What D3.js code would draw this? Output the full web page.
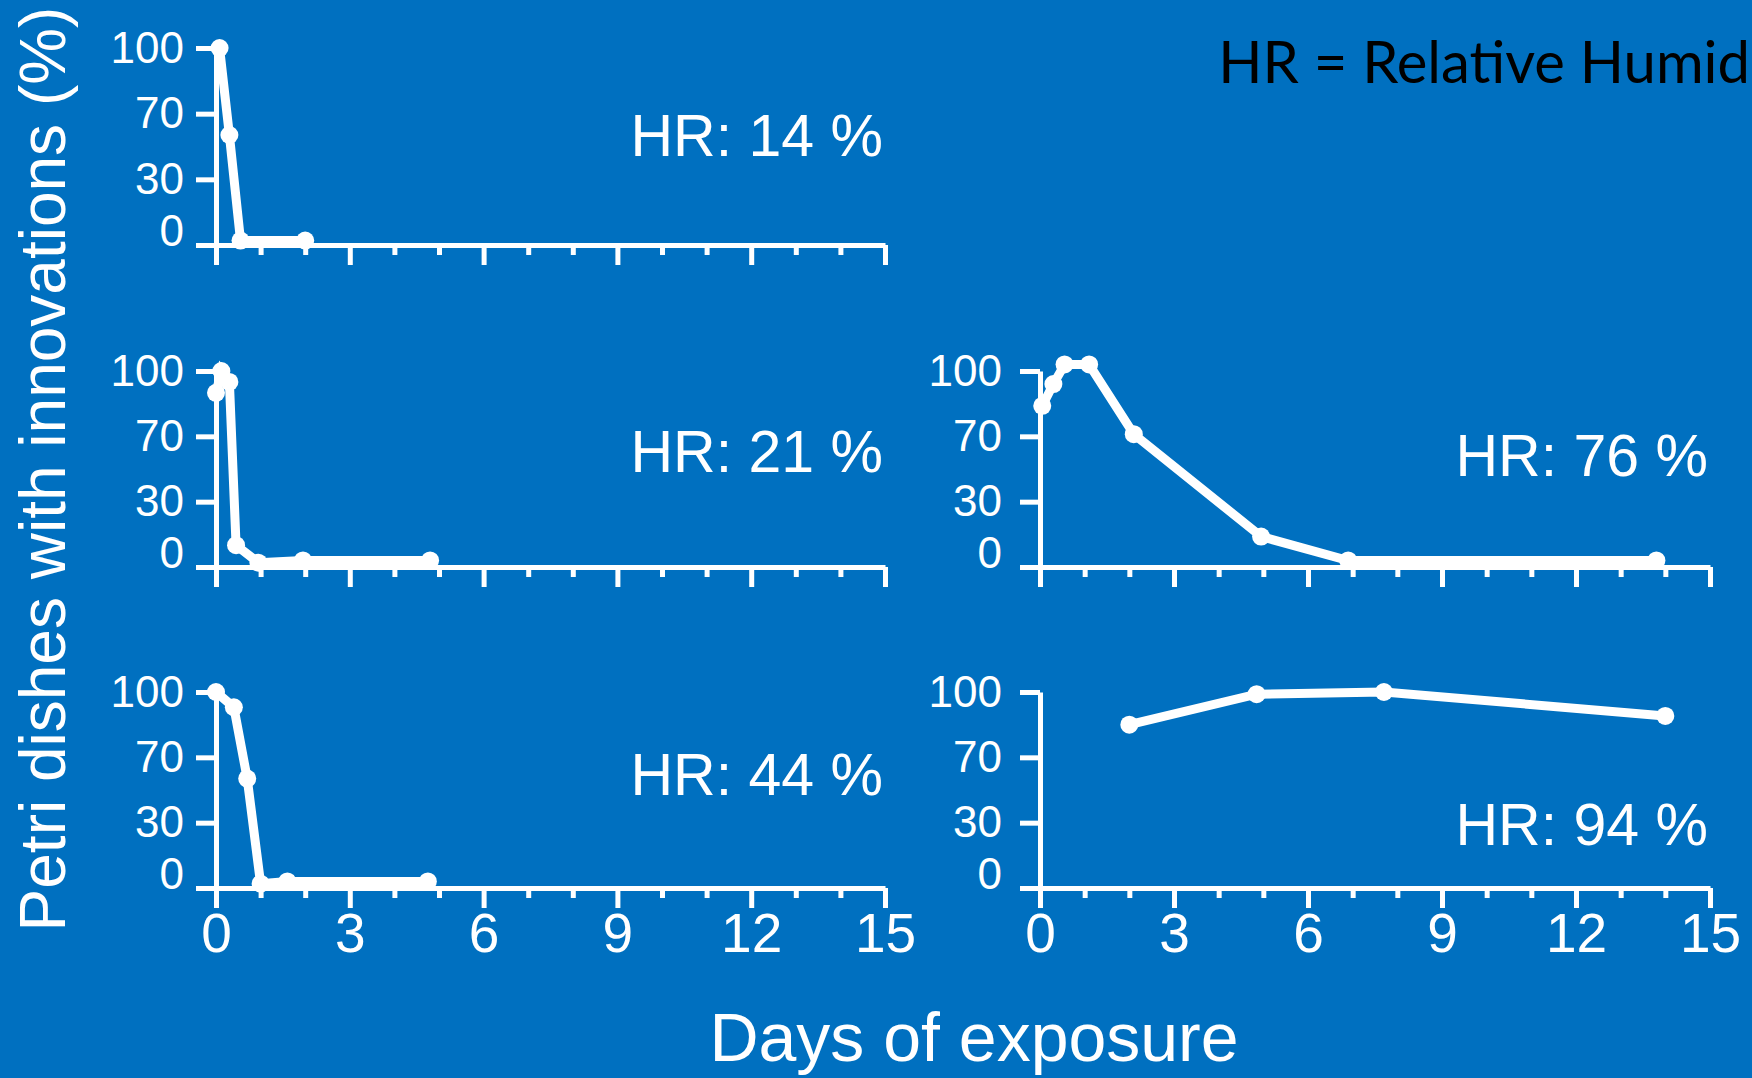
<!DOCTYPE html>
<html>
<head>
<meta charset="utf-8">
<script src="https://cdn.jsdelivr.net/npm/d3@7"></script>
<style>
  html, body { margin: 0; padding: 0; background: #0070C0; overflow: hidden; }
  svg { display: block; }
</style>
</head>
<body>
<div id="chart"></div>
<script>
(function () {

  // Data (days of exposure, % petri dishes)
  const days14 = [0.08, 0.3, 0.55, 2.0]
  const pct14 = [100, 57, 2, 2]

  const days21 = [0, 0.12, 0.3, 0.45, 0.95, 1.95, 4.8]
  const pct21 = [90, 100, 95, 10, 2, 3, 3]

  const days44 = [0, 0.4, 0.7, 1.0, 1.6, 4.75]
  const pct44 = [100, 93, 57, 2, 3, 3]

  const days76 = [0.05, 0.3, 0.55, 1.1, 2.1, 4.95, 6.9, 13.8]
  const pct76 = [84, 94, 103, 103, 71, 14, 3, 3]

  const days94 = [2, 4.85, 7.7, 14]
  const pct94 = [85, 99, 100, 89]

  const yTicks = [0, 30, 70, 100]
  const xMajor = [0, 3, 6, 9, 12, 15]
  const panelLabels = ["HR: 14 %", "HR: 21 %", "HR: 44 %", "HR: 76 %", "HR: 94 %"]

  const panels = [
    { label: panelLabels[0], days: days14, pct: pct14, col: 0, row: 0 },
    { label: panelLabels[1], days: days21, pct: pct21, col: 0, row: 1 },
    { label: panelLabels[2], days: days44, pct: pct44, col: 0, row: 2 },
    { label: panelLabels[3], days: days76, pct: pct76, col: 1, row: 1 },
    { label: panelLabels[4], days: days94, pct: pct94, col: 1, row: 2 }
  ]

  const width = 1752
  const height = 1078
  const colX = [[216, 885], [1040, 1710]]
  const rowTop = [48, 371, 692]
  const rowBottom = [245, 567, 888]
  const labelBase = [[156, 472, 795], [null, 476, 845]]

  const white = "#ffffff"
  const font = "'Liberation Sans', Arial, Helvetica, sans-serif"

  const svg = d3.select("#chart").append("svg")
      .attr("width", width)
      .attr("height", height)

  svg.append("rect")
    .attr("width", width)
    .attr("height", height)
    .attr("fill", "#0070C0")

  panels.forEach(p => {
    const x = d3.scaleLinear().domain([0, 15]).range(colX[p.col])
    const y0 = rowBottom[p.row]
    const h = y0 - rowTop[p.row]
    const y = d3.scaleLinear()
      .domain(yTicks)
      .range([y0, y0 - h / 3, y0 - 2 * h / 3, y0 - h])

    const g = svg.append("g")

    // x axis with minor ticks every day
    const xAxis = g.append("g")
      .attr("transform", "translate(0," + y0 + ")")
      .call(d3.axisBottom(x)
        .tickValues(d3.range(0, 16))
        .tickSize(20)
        .tickSizeOuter(0)
        .tickFormat(d => (p.row === 2 && xMajor.includes(d)) ? d : ""))
    xAxis.selectAll(".tick line")
      .attr("y2", d => xMajor.includes(d) ? 20 : 10)
    xAxis.selectAll("text")
      .attr("y", 25)
      .attr("dy", "0.71em")
      .attr("fill", white)
      .style("font-size", "55px")
      .style("font-family", font)

    // y axis
    const yAxis = g.append("g")
      .attr("transform", "translate(" + colX[p.col][0] + ",0)")
      .call(d3.axisLeft(y)
        .tickValues(yTicks)
        .tickSize(20)
        .tickSizeOuter(0))
    yAxis.selectAll("text")
      .attr("x", p.col === 0 ? -32 : -38)
      .attr("y", d => d === 0 ? -14 : 0)
      .attr("fill", white)
      .style("font-size", "44px")
      .style("font-family", font)

    g.selectAll(".domain, .tick line")
      .attr("stroke", white)
      .attr("stroke-width", 5)

    const pts = p.days.map((d, i) => [d, p.pct[i]])

    g.append("path")
      .datum(pts)
      .attr("fill", "none")
      .attr("stroke", white)
      .attr("stroke-width", 9)
      .attr("stroke-linejoin", "miter")
      .attr("d", d3.line().x(d => x(d[0])).y(d => y(d[1])))

    g.selectAll("circle")
      .data(pts)
      .join("circle")
      .attr("cx", d => x(d[0]))
      .attr("cy", d => y(d[1]))
      .attr("r", 9)
      .attr("fill", white)

    g.append("text")
      .attr("x", colX[p.col][1] - 2)
      .attr("y", labelBase[p.col][p.row])
      .attr("text-anchor", "end")
      .attr("fill", white)
      .style("font-size", "59px")
      .style("font-family", font)
      .text(p.label)
  })

  // Axis titles
  svg.append("text")
    .attr("transform", "translate(65,469) rotate(-90)")
    .attr("text-anchor", "middle")
    .attr("fill", white)
    .style("font-size", "64px")
    .style("font-family", font)
    .text("Petri dishes with innovations (%)")

  svg.append("text")
    .attr("x", 974)
    .attr("y", 1061)
    .attr("text-anchor", "middle")
    .attr("fill", white)
    .style("font-size", "68px")
    .style("font-family", font)
    .text("Days of exposure")

  // Note in the corner (as far as it shows in the source)
  svg.append("text")
    .attr("x", 1750)
    .attr("y", 83)
    .attr("text-anchor", "end")
    .attr("fill", "#000000")
    .style("font-size", "58px")
    .style("font-family", "Lato, 'Open Sans', sans-serif")
    .text("HR = Relative Humid")
})();
</script>
</body>
</html>
